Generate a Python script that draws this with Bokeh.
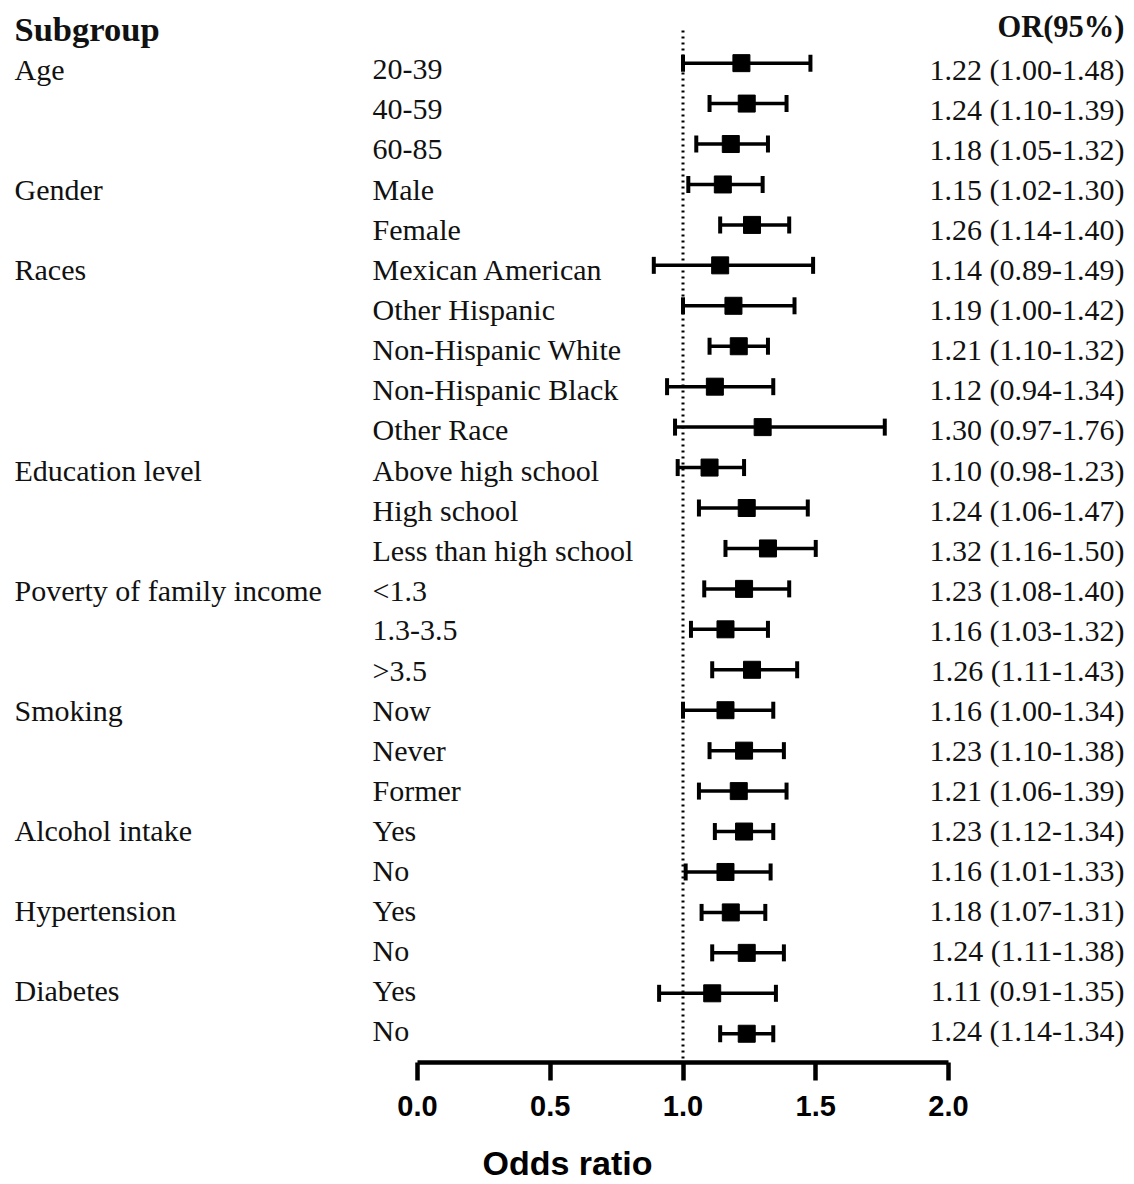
from bokeh.plotting import figure
from bokeh.models import (ColumnDataSource, Range1d, LinearAxis, FixedTicker,
                          PrintfTickFormatter, Whisker, TeeHead)
from bokeh.core.properties import value
from bokeh.embed import file_html
from bokeh.resources import INLINE

# ---------------- data ----------------
groups = ["Age", "Gender", "Races", "Education level", "Poverty of family income",
          "Smoking", "Alcohol intake", "Hypertension", "Diabetes"]
group_sizes = [3, 2, 5, 3, 3, 3, 2, 2, 2]
subgroups = ["20-39", "40-59", "60-85",
             "Male", "Female",
             "Mexican American", "Other Hispanic", "Non-Hispanic White",
             "Non-Hispanic Black", "Other Race",
             "Above high school", "High school", "Less than high school",
             "<1.3", "1.3-3.5", ">3.5",
             "Now", "Never", "Former",
             "Yes", "No",
             "Yes", "No",
             "Yes", "No"]
odds = [1.22, 1.24, 1.18, 1.15, 1.26, 1.14, 1.19, 1.21, 1.12, 1.30,
        1.10, 1.24, 1.32, 1.23, 1.16, 1.26, 1.16, 1.23, 1.21, 1.23,
        1.16, 1.18, 1.24, 1.11, 1.24]
lower = [1.00, 1.10, 1.05, 1.02, 1.14, 0.89, 1.00, 1.10, 0.94, 0.97,
         0.98, 1.06, 1.16, 1.08, 1.03, 1.11, 1.00, 1.10, 1.06, 1.12,
         1.01, 1.07, 1.11, 0.91, 1.14]
upper = [1.48, 1.39, 1.32, 1.30, 1.40, 1.49, 1.42, 1.32, 1.34, 1.76,
         1.23, 1.47, 1.50, 1.40, 1.32, 1.43, 1.34, 1.38, 1.39, 1.34,
         1.33, 1.31, 1.38, 1.35, 1.34]
x_ticks = [0.0, 0.5, 1.0, 1.5, 2.0]

# ---------------- layout helpers ----------------
W, H = 1134, 1184
ORIGIN = 0.0                        # page px where the figure starts
X0_PX, X_UNIT = 417.0, 265.5        # page px of OR=0 and px per OR unit
Y0_PX, Y_UNIT = 62.7, 40.48         # page px of row 0 and px per row
FRAME_TOP, FRAME_BOT = ORIGIN, 1063.0
LEFT, RIGHT = ORIGIN, ORIGIN + W

def px2x(px):
    return (px - X0_PX) / X_UNIT

def px2y(py):
    return (py - Y0_PX) / Y_UNIT

n = len(subgroups)
rows = list(range(n))
# text rows are spaced slightly tighter than the markers in the original
k_txt = 40.1 / Y_UNIT
c_txt = (69.0 - Y0_PX) / Y_UNIT
text_rows = [c_txt + k_txt * i for i in rows]
header_y = c_txt - k_txt

group_rows = []
acc = 0
for s in group_sizes:
    group_rows.append(text_rows[acc])
    acc += s

or_labels = [f"{o:.2f} ({l:.2f}-{u:.2f})" for o, l, u in zip(odds, lower, upper)]

src = ColumnDataSource(dict(y=rows, ty=text_rows, odds=odds, lo=lower, hi=upper,
                            sub=subgroups, lab=or_labels))
gsrc = ColumnDataSource(dict(y=group_rows, g=groups))

p = figure(width=W, height=H, output_backend="svg", toolbar_location=None,
           x_range=Range1d(px2x(LEFT), px2x(RIGHT)),
           y_range=Range1d(px2y(FRAME_BOT), px2y(FRAME_TOP)),
           x_axis_location=None, y_axis_location=None,
           min_border_left=0, min_border_right=0, min_border_top=0,
           min_border_bottom=int(ORIGIN + H - FRAME_BOT),
           background_fill_color="white", border_fill_color="white")
p.outline_line_color = None
p.xgrid.visible = False
p.ygrid.visible = False

# reference line at OR = 1
p.segment(x0=[1.0], x1=[1.0], y0=[px2y(30)], y1=[px2y(FRAME_BOT)],
          line_color="black", line_width=3, line_dash="2 4")

# whiskers
head_kw = dict(size=17, line_width=4, line_color="black")
wh = Whisker(source=src, base="y", lower="lo", upper="hi", dimension="width",
             line_color="black", line_width=3.5,
             lower_head=TeeHead(**head_kw), upper_head=TeeHead(**head_kw))
p.add_layout(wh)

# point estimates
p.scatter(x="odds", y="y", source=src, marker="square", size=17,
          fill_color="black", line_color="black")

serif = value("Liberation Serif")
txt_color = "#111111"

# headers
p.text(x=[px2x(14)], y=[header_y], text=["Subgroup"], text_font=serif,
       text_font_size="34.5px", text_font_style="bold", text_baseline="middle",
       text_align="left", text_color=txt_color)
p.text(x=[px2x(1124)], y=[header_y - 0.05], text=["OR(95%)"], text_font=serif,
       text_font_size="30.5px", text_font_style="bold", text_baseline="middle",
       text_align="right", text_color=txt_color)

# group labels
p.text(x=px2x(14), y="y", text="g", source=gsrc, text_font=serif,
       text_font_size="30px", text_baseline="middle", text_align="left",
       text_color=txt_color)
# subgroup labels
p.text(x=px2x(372), y="ty", text="sub", source=src, text_font=serif,
       text_font_size="30px", text_baseline="middle", text_align="left",
       text_color=txt_color)
# OR labels
p.text(x=px2x(1124), y="ty", text="lab", source=src, text_font=serif,
       text_font_size="30px", text_baseline="middle", text_align="right",
       text_color=txt_color)

# x axis
ax = LinearAxis(ticker=FixedTicker(ticks=x_ticks),
                formatter=PrintfTickFormatter(format="%.1f"),
                bounds=(x_ticks[0], x_ticks[-1]),
                axis_label="Odds ratio")
ax.axis_line_width = 4.5
ax.axis_line_color = "black"
ax.major_tick_line_width = 4.5
ax.major_tick_line_color = "black"
ax.major_tick_out = 18
ax.major_tick_in = 0
ax.minor_tick_out = 0
ax.minor_tick_in = 0
ax.major_label_standoff = 15
ax.major_label_text_font = "Liberation Sans"
ax.major_label_text_font_style = "bold"
ax.major_label_text_font_size = "29px"
ax.major_label_text_color = "black"
ax.axis_label_text_font = "Liberation Sans"
ax.axis_label_text_font_style = "bold"
ax.axis_label_text_font_size = "34px"
ax.axis_label_text_color = "black"
ax.axis_label_standoff = 25
p.add_layout(ax, "below")

open("out.html", "w").write(file_html(p, INLINE))
